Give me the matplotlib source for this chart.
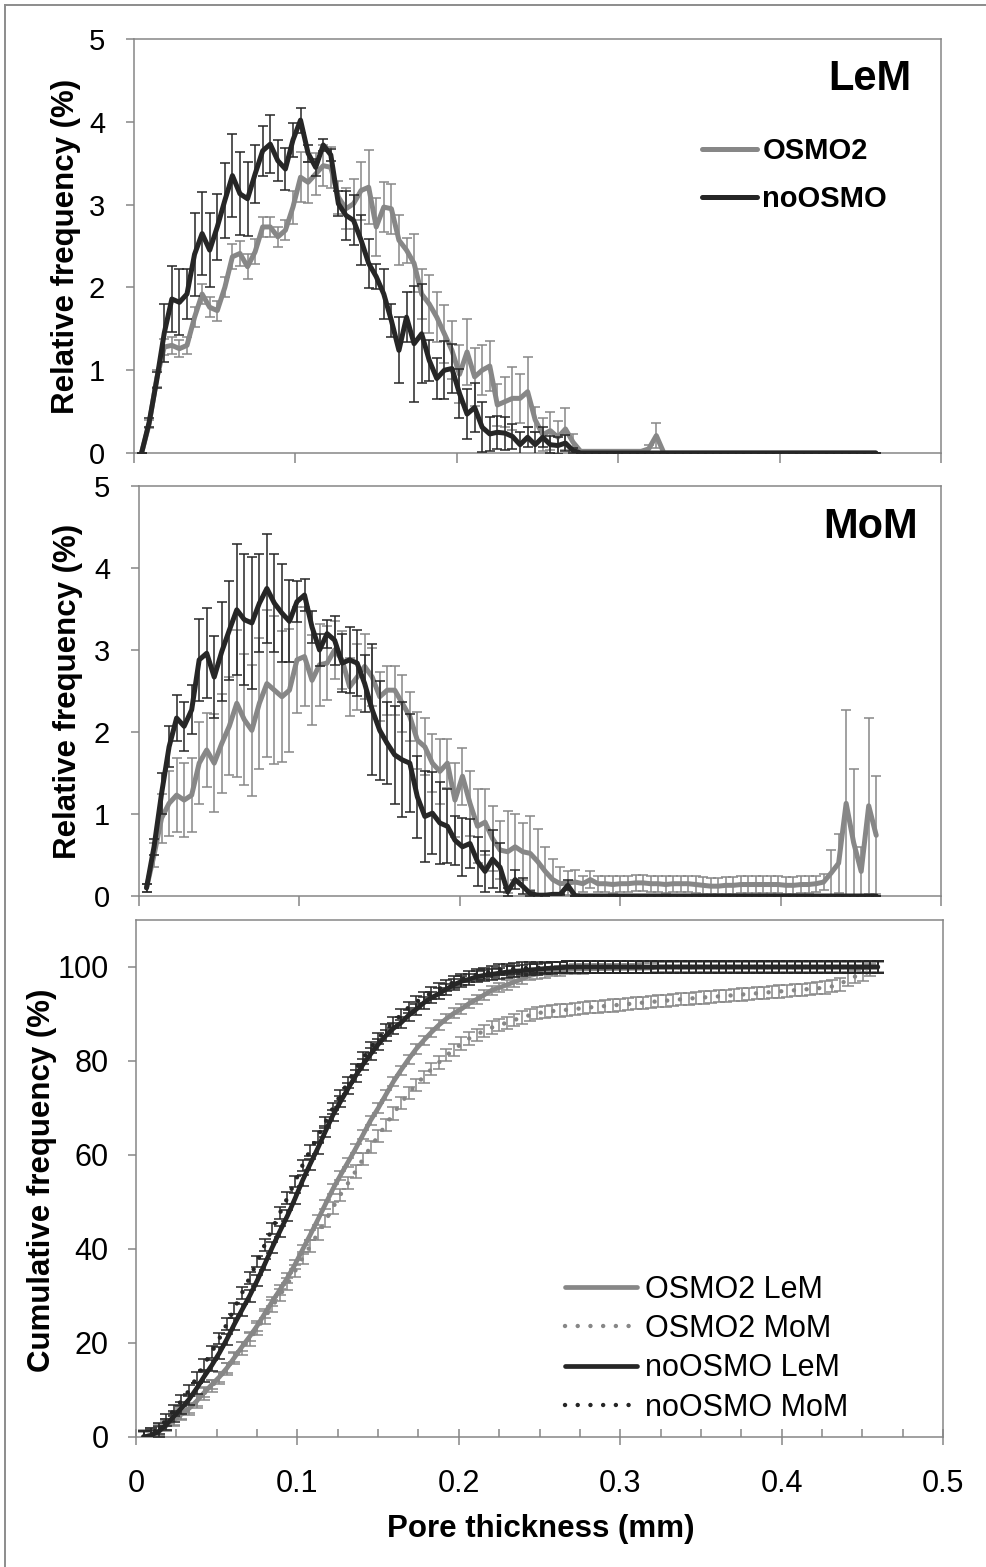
import numpy as np
import matplotlib
matplotlib.use("Agg")
import matplotlib.pyplot as plt
from matplotlib.lines import Line2D
from matplotlib.ticker import MultipleLocator

plt.rcParams['font.family'] = ['Liberation Sans', 'DejaVu Sans']

W, H, DPI = 986, 1567, 100

# bin centres of the pore thickness histogram (mm), 98 bins
step = 0.00469
x = np.arange(1, 99) * step

# relative frequency (%), LeM
osmo_lem = [0, 0.35, 0.9, 1.28, 1.3, 1.26, 1.3, 1.64, 1.92, 1.76, 1.72, 2.0, 2.37, 2.41, 2.25, 2.43,
            2.73, 2.73, 2.61, 2.69, 2.97, 3.33, 3.27, 3.37, 3.47, 3.45, 3.09, 2.95, 3.01, 3.17, 3.21, 2.73,
            2.97, 2.95, 2.57, 2.45, 2.29, 1.92, 1.8, 1.64, 1.44, 1.24, 0.95, 1.22, 0.92, 1.0, 1.05, 0.58,
            0.62, 0.66, 0.66, 0.74, 0.4, 0.22, 0.27, 0.19, 0.29, 0.13, 0.02, 0.02, 0.02, 0.02, 0.02, 0.02,
            0.02, 0.02, 0.02, 0.05, 0.21, 0] + [0] * 28
osmo_lem_err = [0, 0.05, 0.1, 0.1, 0.1, 0.1, 0.1, 0.12, 0.12, 0.12, 0.12, 0.12, 0.15, 0.15, 0.15, 0.15,
                0.12, 0.12, 0.12, 0.12, 0.2, 0.3, 0.25, 0.25, 0.25, 0.25, 0.2, 0.25, 0.3, 0.35, 0.45, 0.35,
                0.3, 0.3, 0.3, 0.15, 0.35, 0.3, 0.35, 0.3, 0.35, 0.35, 0.35, 0.4, 0.35, 0.3, 0.3, 0.25,
                0.3, 0.38, 0.3, 0.42, 0.15, 0.2, 0.23, 0.2, 0.25, 0.1, 0.02, 0.02, 0.02, 0.02, 0.02, 0.02,
                0.02, 0.02, 0.02, 0.05, 0.15, 0] + [0] * 28
noosmo_lem = [0, 0.37, 0.88, 1.45, 1.86, 1.82, 1.92, 2.4, 2.65, 2.45, 2.73, 3.05, 3.35, 3.13, 3.07, 3.37,
              3.65, 3.73, 3.53, 3.43, 3.78, 4.02, 3.62, 3.45, 3.72, 3.6, 3.01, 2.87, 2.81, 2.57, 2.29, 2.13,
              1.92, 1.6, 1.24, 1.64, 1.32, 1.44, 1.12, 0.9, 1.0, 1.02, 0.72, 0.47, 0.55, 0.31, 0.23, 0.25,
              0.24, 0.2, 0.1, 0.19, 0.1, 0.19, 0.1, 0.09, 0.12, 0.03] + [0] * 40
noosmo_lem_err = [0, 0.05, 0.1, 0.35, 0.4, 0.4, 0.3, 0.5, 0.5, 0.45, 0.4, 0.45, 0.5, 0.5, 0.45, 0.35,
                  0.3, 0.35, 0.25, 0.25, 0.2, 0.15, 0.1, 0.1, 0.07, 0.07, 0.15, 0.3, 0.3, 0.3, 0.3, 0.15,
                  0.3, 0.2, 0.4, 0.3, 0.7, 0.6, 0.25, 0.25, 0.35, 0.3, 0.3, 0.3, 0.3, 0.3, 0.2, 0.2,
                  0.2, 0.15, 0.15, 0.12, 0.15, 0.12, 0.1, 0.1, 0.1, 0.03] + [0] * 40

# relative frequency (%), MoM
osmo_mom = [0.1, 0.5, 0.95, 1.13, 1.23, 1.17, 1.23, 1.62, 1.78, 1.62, 1.86, 2.07, 2.35, 2.15, 2.02, 2.35,
            2.59, 2.51, 2.43, 2.51, 2.88, 2.92, 2.63, 2.82, 2.84, 3.0, 2.88, 2.55, 2.67, 2.8, 2.67, 2.43,
            2.51, 2.51, 2.35, 2.19, 1.9, 1.82, 1.62, 1.52, 1.62, 1.17, 1.46, 1.13, 0.85, 0.9, 0.7, 0.56,
            0.54, 0.6, 0.54, 0.52, 0.42, 0.3, 0.2, 0.15, 0.16, 0.17, 0.15, 0.2, 0.15,
            0.15, 0.14, 0.15, 0.15, 0.16, 0.16, 0.15, 0.15, 0.14, 0.15, 0.15, 0.15, 0.14, 0.13, 0.12,
            0.12, 0.13, 0.13, 0.14, 0.14, 0.14, 0.14, 0.14, 0.14, 0.13, 0.13, 0.14, 0.14, 0.15, 0.17,
            0.28, 0.4, 1.13, 0.65, 0.3, 1.1, 0.74]
osmo_mom_err = [0.05, 0.15, 0.3, 0.4, 0.45, 0.45, 0.45, 0.5, 0.45, 0.6, 0.6, 0.6, 0.9, 0.8, 0.8, 0.8,
                0.9, 0.9, 0.8, 0.75, 0.65, 0.6, 0.55, 0.5, 0.45, 0.35, 0.35, 0.35, 0.4, 0.4, 0.35, 0.3,
                0.3, 0.3, 0.35, 0.3, 0.35, 0.35, 0.35, 0.4, 0.3, 0.45, 0.35, 0.4, 0.45, 0.4, 0.4, 0.35,
                0.5, 0.4, 0.35, 0.45, 0.4, 0.3, 0.25, 0.2, 0.15, 0.15] + [0.1] * 33 + \
               [0.28, 0.36, 1.14, 0.9, 0.3, 1.07, 0.72]
noosmo_mom = [0.1, 0.6, 1.25, 1.82, 2.17, 2.07, 2.27, 2.88, 2.96, 2.67, 2.98, 3.24, 3.49, 3.37, 3.33, 3.57,
              3.75, 3.57, 3.45, 3.35, 3.59, 3.67, 3.28, 3.0, 3.2, 3.12, 2.84, 2.88, 2.84, 2.59, 2.27, 2.02,
              1.86, 1.72, 1.66, 1.62, 1.21, 0.97, 1.01, 0.89, 0.85, 0.68, 0.6, 0.64,
              0.42, 0.3, 0.45, 0.35, 0.05, 0.2, 0.12, 0.03, 0.01, 0.01, 0.02, 0.02, 0.13] + [0] * 41
noosmo_mom_err = [0.05, 0.1, 0.25, 0.25, 0.28, 0.3, 0.3, 0.5, 0.55, 0.5, 0.6, 0.6, 0.8, 0.8, 0.8, 0.6,
                  0.67, 0.6, 0.6, 0.5, 0.25, 0.2, 0.2, 0.2, 0.17, 0.3, 0.35, 0.4, 0.4, 0.35, 0.8, 0.6,
                  0.5, 0.6, 0.7, 0.6, 0.5, 0.55, 0.5, 0.5, 0.45, 0.3, 0.35, 0.3,
                  0.3, 0.25, 0.35, 0.3, 0.05, 0.12, 0.1, 0.03, 0.01, 0.01, 0.01, 0.01, 0.06] + [0] * 41

# error of the cumulative curves (%), one value per series
cum_err = {'OSMO2 LeM': 1.0, 'OSMO2 MoM': 1.3, 'noOSMO LeM': 1.2, 'noOSMO MoM': 1.2}


def cumulative(freq):
    f = np.asarray(freq, dtype=float)
    return np.cumsum(f) / f.sum() * 100


GRAY = '#878787'
BLACK = '#262626'
SPINE = '#868686'


def box(l, t, r, b):
    return [l / W, 1 - b / H, (r - l) / W, (b - t) / H]


fig = plt.figure(figsize=(W / DPI, H / DPI), dpi=DPI)

# outer frame (only top and left edges are inside the picture)
fig.add_artist(Line2D([5 / W, 5 / W], [0, 1 - 5 / H], color='#8c8c8c', lw=1.4))
fig.add_artist(Line2D([5 / W, 1], [1 - 5 / H, 1 - 5 / H], color='#8c8c8c', lw=1.4))


def style_axes(ax, size):
    for s in ax.spines.values():
        s.set_color(SPINE)
        s.set_linewidth(1.1)
    ax.tick_params(colors=SPINE, labelcolor='black', width=1.1, labelsize=size)


def rel_panel(ax, osmo, osmo_err, noosmo, noosmo_err):
    ax.errorbar(x, osmo, yerr=osmo_err, fmt='none', ecolor=GRAY, elinewidth=1.1,
                capsize=3.6, capthick=1.1, zorder=2)
    ax.plot(x, osmo, color=GRAY, lw=3.6, solid_capstyle='round', solid_joinstyle='round',
            label='OSMO2', zorder=3)
    ax.errorbar(x, noosmo, yerr=noosmo_err, fmt='none', ecolor=BLACK, elinewidth=1.1,
                capsize=3.6, capthick=1.1, zorder=4)
    ax.plot(x, noosmo, color=BLACK, lw=3.6, solid_capstyle='round', solid_joinstyle='round',
            label='noOSMO', zorder=5)
    ax.set_xlim(0, 0.5)
    ax.set_ylim(0, 5)
    ax.xaxis.set_major_locator(MultipleLocator(0.1))
    ax.yaxis.set_major_locator(MultipleLocator(1))
    style_axes(ax, 21)
    ax.tick_params(axis='x', direction='out', length=7.2, labelbottom=False)
    ax.tick_params(axis='y', direction='out', length=5.8, pad=15)


ax1 = fig.add_axes(box(134, 39, 941, 453))
rel_panel(ax1, osmo_lem, osmo_lem_err, noosmo_lem, noosmo_lem_err)
fig.text(911 / W, 1 - 90 / H, 'LeM', ha='right', va='baseline', weight='bold', size=30)
ax1.legend(loc='upper left', bbox_to_anchor=(702 / W, 1 - 137 / H), bbox_transform=fig.transFigure,
           frameon=False, prop=dict(weight='bold', size=21), handlelength=1.9, handletextpad=0.17,
           labelspacing=0.7, borderpad=0, borderaxespad=0)
fig.text(66 / W, 1 - 246 / H, 'Relative frequency (%)', rotation=90, ha='center', va='center',
         weight='bold', size=22.5)

ax2 = fig.add_axes(box(139, 486, 941, 896))
rel_panel(ax2, osmo_mom, osmo_mom_err, noosmo_mom, noosmo_mom_err)
fig.text(918 / W, 1 - 538 / H, 'MoM', ha='right', va='baseline', weight='bold', size=30)
fig.text(68 / W, 1 - 691 / H, 'Relative frequency (%)', rotation=90, ha='center', va='center',
         weight='bold', size=22.5)

# cumulative panel
ax3 = fig.add_axes(box(136, 920, 943, 1437))
series = [
    ('OSMO2 LeM', osmo_lem, GRAY, '-'),
    ('OSMO2 MoM', osmo_mom, GRAY, ':'),
    ('noOSMO LeM', noosmo_lem, BLACK, '-'),
    ('noOSMO MoM', noosmo_mom, BLACK, ':'),
]
z = 2
for name, freq, col, ls in series:
    cum = cumulative(freq)
    ax3.errorbar(x, cum, yerr=cum_err[name], fmt='none', ecolor=col, elinewidth=1.1,
                 capsize=4.3, capthick=1.1, zorder=z)
    if ls == '-':
        ax3.plot(x, cum, color=col, lw=3.4, solid_capstyle='round', label=name, zorder=z + 1)
    else:
        ax3.plot(x, cum, color=col, lw=3.2, linestyle=(0, (0.01, 2.85)), dash_capstyle='round',
                 label=name, zorder=z + 1)
    z += 2
ax3.set_xlim(0, 0.5)
ax3.set_ylim(0, 110)
ax3.xaxis.set_minor_locator(MultipleLocator(0.025))
ax3.set_yticks([0, 20, 40, 60, 80, 100])
ax3.set_xticks([0, 0.1, 0.2, 0.3, 0.4, 0.5])
ax3.set_xticklabels(['0', '0.1', '0.2', '0.3', '0.4', '0.5'])
style_axes(ax3, 22)
ax3.tick_params(axis='x', which='major', direction='inout', length=12, pad=17)
ax3.tick_params(axis='x', which='minor', direction='in', length=5.5, colors=SPINE, width=1.1)
ax3.tick_params(axis='y', direction='out', length=5.8, pad=14)
ax3.legend(loc='upper left', bbox_to_anchor=(565 / W, 1 - 1275 / H), bbox_transform=fig.transFigure,
           frameon=False, prop=dict(size=22), handlelength=2.35, handletextpad=0.26,
           labelspacing=0.3, borderpad=0, borderaxespad=0)
fig.text(42 / W, 1 - 1180 / H, 'Cumulative frequency (%)', rotation=90, ha='center', va='center',
         weight='bold', size=22.5)
fig.text(541 / W, 1 - 1537 / H, 'Pore thickness (mm)', ha='center', va='baseline',
         weight='bold', size=22.5)

fig.savefig('out.png', dpi=DPI)
